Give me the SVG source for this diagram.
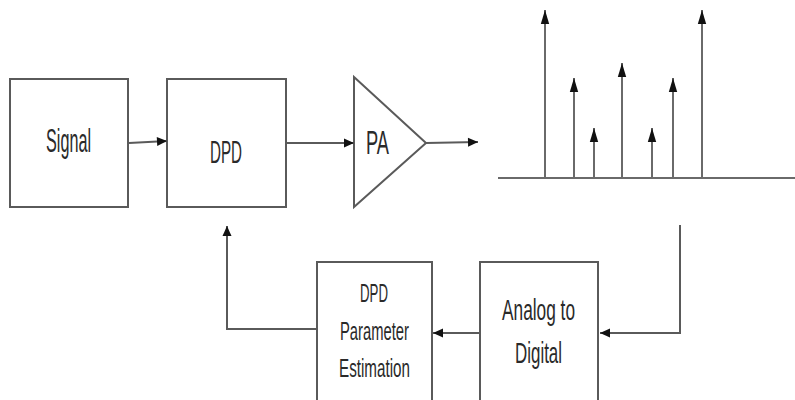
<svg xmlns="http://www.w3.org/2000/svg" width="795" height="400" viewBox="0 0 795 400">
<style>
.box{fill:#fff;stroke:#5a5a5a;stroke-width:2}
.ln{fill:none;stroke:#5a5a5a;stroke-width:2}
.sp{fill:none;stroke:#6a6a6a;stroke-width:2}
text{font-family:"Liberation Sans Narrow","Liberation Sans",sans-serif;fill:#2a2a2a}
</style>
<defs>
<marker id="ah" markerUnits="userSpaceOnUse" markerWidth="12" markerHeight="12" viewBox="0 0 12 12" refX="11" refY="6" orient="auto">
<path d="M1,1.5 L11,6 L1,10.5 Z" fill="#111"/>
</marker>
<marker id="sh" markerUnits="userSpaceOnUse" markerWidth="16" markerHeight="12" viewBox="0 0 16 12" refX="15" refY="6" orient="auto">
<path d="M1,1.8 L15,6 L1,10.2 Z" fill="#111"/>
</marker>
</defs>
<rect width="795" height="400" fill="#fff"/>
<g id="signal">
<rect class="box" x="10" y="79" width="118" height="128"/>
<text x="46" y="152" font-size="33" textLength="45" lengthAdjust="spacingAndGlyphs">Signal</text>
</g>
<g id="dpd">
<rect class="box" x="167" y="79" width="119" height="128"/>
<text x="210" y="163" font-size="31" textLength="32" lengthAdjust="spacingAndGlyphs">DPD</text>
</g>
<g id="pa">
<polygon class="box" points="354,77 426,143 354,207"/>
<text x="366" y="154" font-size="34" textLength="23" lengthAdjust="spacingAndGlyphs">PA</text>
</g>
<g id="spectrum">
<line class="sp" x1="498" y1="178" x2="795" y2="178"/>
<line class="sp" x1="545" y1="178" x2="545" y2="10" marker-end="url(#sh)"/>
<line class="sp" x1="574" y1="178" x2="574" y2="78" marker-end="url(#sh)"/>
<line class="sp" x1="594" y1="178" x2="594" y2="128" marker-end="url(#sh)"/>
<line class="sp" x1="622" y1="178" x2="622" y2="63" marker-end="url(#sh)"/>
<line class="sp" x1="652" y1="178" x2="652" y2="128" marker-end="url(#sh)"/>
<line class="sp" x1="673" y1="178" x2="673" y2="78" marker-end="url(#sh)"/>
<line class="sp" x1="702" y1="178" x2="702" y2="10" marker-end="url(#sh)"/>
</g>
<g id="param">
<rect class="box" x="317" y="262" width="115" height="145"/>
<text x="360" y="302" font-size="25" textLength="28" lengthAdjust="spacingAndGlyphs">DPD</text>
<text x="340" y="340" font-size="25" textLength="69" lengthAdjust="spacingAndGlyphs">Parameter</text>
<text x="339" y="377" font-size="25" textLength="71" lengthAdjust="spacingAndGlyphs">Estimation</text>
</g>
<g id="adc">
<rect class="box" x="480" y="262" width="118" height="145"/>
<text x="502" y="320" font-size="29" textLength="73" lengthAdjust="spacingAndGlyphs">Analog to</text>
<text x="515" y="363" font-size="29" textLength="47" lengthAdjust="spacingAndGlyphs">Digital</text>
</g>
<g id="connectors">
<line class="ln" x1="129" y1="143" x2="167" y2="141" marker-end="url(#ah)"/>
<line class="ln" x1="286" y1="143" x2="354" y2="143" marker-end="url(#ah)"/>
<line class="ln" x1="426" y1="143" x2="478" y2="142" marker-end="url(#ah)"/>
<polyline class="ln" points="680,225 680,333 600,333" marker-end="url(#ah)"/>
<line class="ln" x1="480" y1="333" x2="433" y2="333" marker-end="url(#ah)"/>
<polyline class="ln" points="317,329 227,329 227,226" marker-end="url(#ah)"/>
</g>
</svg>
